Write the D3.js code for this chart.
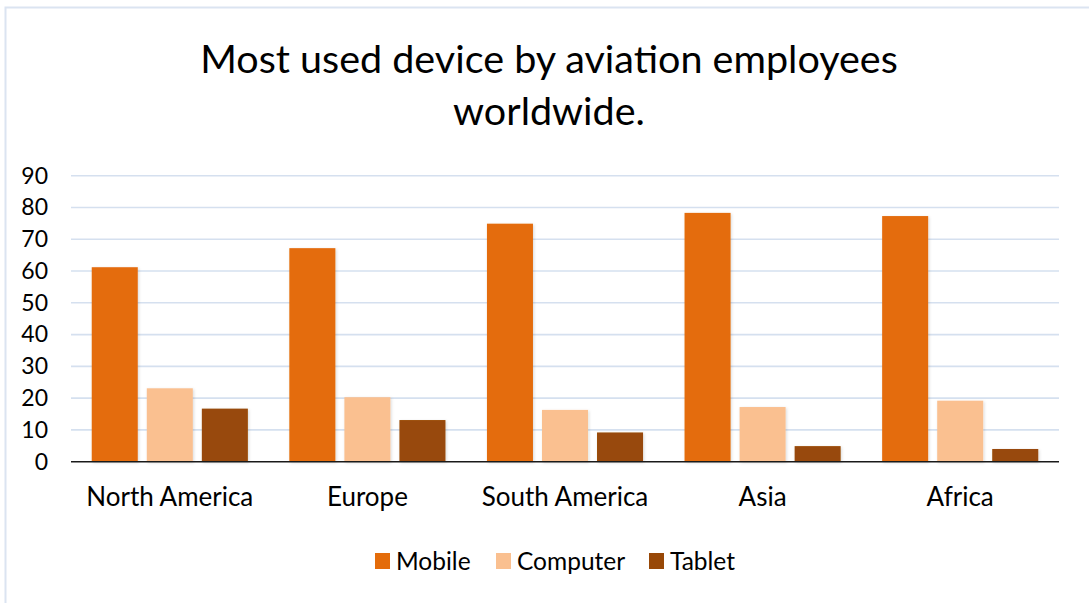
<!DOCTYPE html>
<html>
<head>
<meta charset="utf-8">
<script src="https://cdn.jsdelivr.net/npm/d3@7"></script>
<style>
  html, body { margin: 0; padding: 0; background: #fff; }
  svg { display: block; font-family: Lato, "Open Sans", sans-serif; }
</style>
</head>
<body>
<div id="chart"></div>
<script>
const W = 1089, H = 603;
const regions = ["North America", "Europe", "South America", "Asia", "Africa"];
const series = ["Mobile", "Computer", "Tablet"];
const mobile = [61.2, 67.2, 74.9, 78.3, 77.3];
const computer = [23.1, 20.3, 16.3, 17.2, 19.2];
const tablet = [16.7, 13.1, 9.2, 4.9, 4.0];
const yTicks = [0, 10, 20, 30, 40, 50, 60, 70, 80, 90];
const colors = ["#e46c0a", "#fac090", "#984807"];
const titleLines = ["Most used device by aviation employees", "worldwide."];

const values = [mobile, computer, tablet];
const margin = { top: 175.7, left: 71, right: 30, bottom: 141.3 };

const svg = d3.select("#chart").append("svg").attr("width", W).attr("height", H);

const defs = svg.append("defs");
const shadow = defs.append("filter").attr("id", "shadow").attr("x", "-20%").attr("y", "-20%").attr("width", "140%").attr("height", "140%");
shadow.append("feDropShadow").attr("dx", 1).attr("dy", 1).attr("stdDeviation", 1.5).attr("flood-color", "#000").attr("flood-opacity", 0.15);

// outer frame (right/bottom edges run off the picture)
svg.append("rect")
  .attr("x", 5.5).attr("y", 7.5)
  .attr("width", W + 20).attr("height", H + 20)
  .attr("fill", "none").attr("stroke", "#dbe4f1").attr("stroke-width", 2);

svg.append("text")
  .attr("text-anchor", "middle")
  .attr("font-size", 39.5)
  .attr("fill", "#000")
  .selectAll("tspan")
  .data(titleLines)
  .enter()
  .append("tspan")
  .attr("x", 549)
  .attr("y", (d, i) => 73 + i * 52)
  .text((d) => d);

const y = d3.scaleLinear().domain([0, 90]).range([461.7, margin.top]);
const x0 = d3.scaleBand().domain(regions).range([margin.left, 1059]).paddingInner(0.21).paddingOuter(0.105);
const x1 = d3.scaleBand().domain(series).range([0, x0.bandwidth()]).paddingInner(0.164);

// gridlines
svg.append("g")
  .selectAll("line")
  .data(yTicks.filter((d) => d > 0))
  .enter()
  .append("line")
  .attr("x1", margin.left).attr("x2", 1059)
  .attr("y1", (d) => y(d)).attr("y2", (d) => y(d))
  .attr("stroke", "#d5e0ef").attr("stroke-width", 1.6);

// y axis labels
const yAxis = svg.append("g")
  .attr("transform", `translate(${margin.left}, 0)`)
  .call(d3.axisLeft(y).tickValues(yTicks).tickSize(0).tickPadding(23));
yAxis.select(".domain").remove();
yAxis.selectAll("text").attr("font-size", 23).attr("font-family", "Lato, 'Open Sans', sans-serif").attr("fill", "#000");

// bars
const groups = svg.append("g")
  .selectAll("g")
  .data(regions)
  .enter()
  .append("g")
  .attr("transform", (d) => `translate(${x0(d)}, 0)`);

groups.selectAll("rect")
  .data((d, i) => series.map((s, j) => ({ s, v: values[j][i], c: colors[j] })))
  .enter()
  .append("rect")
  .attr("x", (d) => x1(d.s))
  .attr("width", x1.bandwidth())
  .attr("y", (d) => y(d.v))
  .attr("height", (d) => y(0) - y(d.v))
  .attr("fill", (d) => d.c)
  .attr("filter", "url(#shadow)");

// baseline
svg.append("line")
  .attr("x1", margin.left).attr("x2", 1059)
  .attr("y1", y(0)).attr("y2", y(0))
  .attr("stroke", "#1a1a1a").attr("stroke-width", 1.6);

// x axis labels
const xAxis = svg.append("g")
  .attr("transform", `translate(0, ${y(0)})`)
  .call(d3.axisBottom(x0).tickSize(0).tickPadding(26));
xAxis.select(".domain").remove();
xAxis.selectAll("text").attr("font-size", 26).attr("font-family", "Lato, 'Open Sans', sans-serif").attr("fill", "#000");

// legend
const legendX = [375, 496, 649];
const legend = svg.append("g")
  .selectAll("g")
  .data(series)
  .enter()
  .append("g")
  .attr("transform", (d, i) => `translate(${legendX[i]}, 553)`);
legend.append("rect")
  .attr("width", 15).attr("height", 16)
  .attr("fill", (d, i) => colors[i]);
legend.append("text")
  .attr("x", 21).attr("y", 16.5)
  .attr("font-size", 24.5)
  .attr("fill", "#000")
  .text((d) => d);
</script>
</body>
</html>
